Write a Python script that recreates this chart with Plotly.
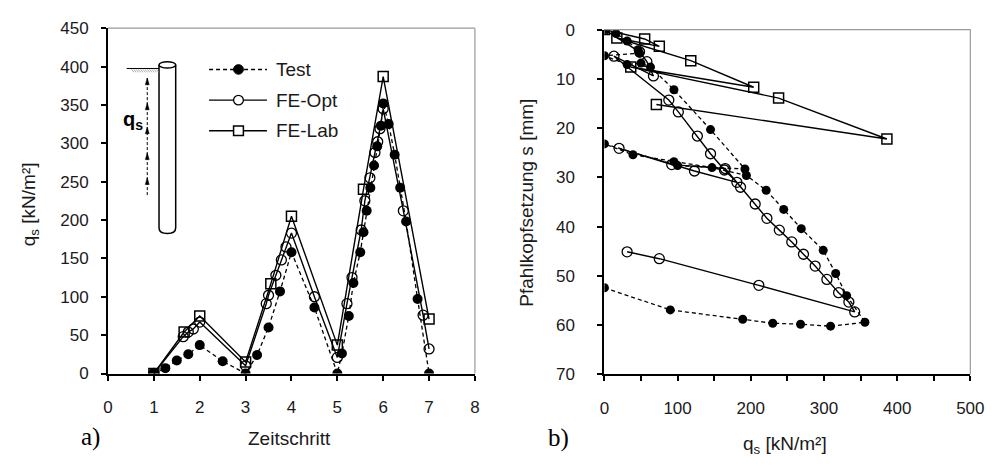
import plotly.graph_objects as go

# ---- a) skin friction q_s over the load steps ----
t_test = [1, 1.25, 1.5, 1.75, 2, 2.5, 3, 3.25, 3.5, 3.75, 4, 4.5, 5, 5.1, 5.25, 5.35, 5.5,
          5.57, 5.64, 5.72, 5.8, 5.87, 5.95, 6, 6.12, 6.25, 6.37, 6.5, 6.75, 7]
q_test = [0, 7, 17, 25, 37, 16, 0, 24, 60, 107, 158, 86, 0, 26, 75, 118, 158,
          184, 212, 242, 271, 296, 323, 352, 325, 285, 242, 198, 97, 0]

t_opt = [1, 1.64, 1.75, 1.86, 2, 3, 3.45, 3.5, 3.66, 3.78, 3.88, 4, 4.5, 5, 5.21, 5.32,
         5.52, 5.6, 5.71, 5.82, 5.88, 5.93, 6, 6.44, 6.87, 7]
q_opt = [0, 48, 54, 58, 67, 10, 91, 102, 128, 148, 165, 183, 100, 21, 91, 125,
         187, 225, 255, 288, 302, 319, 345, 212, 76, 32]

t_lab = [1, 1.66, 2, 3, 3.55, 4, 5, 5.57, 6, 7]
q_lab = [0, 54, 75, 15, 117, 205, 37, 240, 387, 71]

# ---- b) pile head settlement s over q_s ----
qb_test = [0, 16, 31, 46, 48, 0, 31, 50, 63, 95, 145, 192, 100, 0, 39, 95, 147, 194, 221,
           245, 269, 299, 316, 331, 356, 309, 268, 230, 189, 90, 0]
sb_test = [0, 0.8, 2.3, 4.1, 4.8, 5.3, 7.1, 6.8, 7.6, 12.2, 20.3, 28.3, 27.6, 23.2, 25.4,
           26.8, 28.0, 29.6, 32.6, 36.5, 40.4, 44.8, 49.5, 54.0, 59.4, 60.2, 59.8, 59.6,
           58.8, 56.9, 52.4]

qb_opt = [0, 48, 58, 67, 13, 88, 101, 127, 145, 164, 181, 123, 20, 92, 165, 186, 206, 222,
          239, 256, 272, 288, 304, 320, 334, 342, 211, 75, 31]
sb_opt = [0, 4.5, 6.5, 9.4, 5.4, 14.3, 16.7, 21.6, 25.2, 28.5, 31.0, 28.7, 24.1, 27.4, 28.2,
          32.0, 35.4, 38.3, 40.7, 43.1, 45.6, 48.0, 50.7, 53.4, 55.3, 57.3, 51.9, 46.5, 45.1]

qb_lab = [0, 55, 75, 17, 118, 204, 36, 238, 386, 71]
sb_lab = [0, 1.9, 3.4, 1.7, 6.3, 11.7, 7.6, 13.9, 22.2, 15.2]

left_xticks = list(range(0, 9))
left_yticks = list(range(0, 451, 50))
right_xticks = list(range(0, 501, 100))
right_yticks = list(range(0, 71, 10))

W, H = 1002, 466
FONT = "Liberation Sans, Arial, sans-serif"
SERIF = "Liberation Serif, Times New Roman, serif"
INK = "#1a1a1a"


def fx(p):
    return p / W


def fy(p):
    return 1 - p / H


series_style = dict(
    test=dict(line=dict(color="black", width=1.3, dash="4px,3px"),
              marker=dict(symbol="circle", size=10, color="black")),
    opt=dict(line=dict(color="black", width=1.4),
             marker=dict(symbol="circle-open", size=10, color="black", line=dict(width=1.3))),
    lab=dict(line=dict(color="black", width=1.4),
             marker=dict(symbol="square-open", size=10, color="black", line=dict(width=1.5))),
)

fig = go.Figure()
for name, key, xs, ys in [("Test", "test", t_test, q_test),
                          ("FE-Opt", "opt", t_opt, q_opt),
                          ("FE-Lab", "lab", t_lab, q_lab)]:
    fig.add_trace(go.Scatter(x=xs, y=ys, mode="lines+markers", name=name,
                             xaxis="x", yaxis="y", showlegend=False, **series_style[key]))

for name, key, xs, ys in [("Test", "test", qb_test, sb_test),
                          ("FE-Opt", "opt", qb_opt, sb_opt),
                          ("FE-Lab", "lab", qb_lab, sb_lab)]:
    st = dict(series_style[key])
    st["marker"] = dict(st["marker"], size=9 if key == "test" else 10)
    fig.add_trace(go.Scatter(x=xs, y=ys, mode="lines+markers", name=name,
                             xaxis="x2", yaxis="y2", showlegend=False, **st))

axis_common = dict(showgrid=False, zeroline=False, showline=True, linecolor="black",
                   linewidth=2, ticks="outside", ticklen=5, tickwidth=1.5,
                   tickcolor="black", tickfont=dict(family=FONT, size=17, color=INK))

fig.update_layout(
    width=W, height=H, margin=dict(l=0, r=0, t=0, b=0),
    paper_bgcolor="white", plot_bgcolor="white",
    xaxis=dict(domain=[fx(105), fx(479)], range=[0, 8], tickmode="array",
               tickvals=left_xticks, ticktext=[str(v) for v in left_xticks],
               ticklabelstandoff=12, **axis_common),
    yaxis=dict(domain=[fy(380), fy(20)], range=[0, 450], tickmode="array",
               tickvals=left_yticks, ticktext=[str(v) for v in left_yticks],
               ticklabelstandoff=9, **axis_common),
    xaxis2=dict(domain=[fx(611), fx(984)], range=[0, 500], anchor="y2", tickmode="array",
                tickvals=right_xticks, ticktext=[str(v) for v in right_xticks],
                ticklabelstandoff=12,
                minor=dict(dtick=50, ticks="outside", ticklen=5, tickwidth=1.5,
                           tickcolor="black", showgrid=False),
                **axis_common),
    yaxis2=dict(domain=[fy(381), fy(21.5)], range=[70, 0], anchor="x2", tickmode="array",
                tickvals=right_yticks, ticktext=[str(v) for v in right_yticks],
                ticklabelstandoff=19, **axis_common),
)

shapes = []
# light grey frame on top and right of both plots
for (x0, x1, y0, y1) in [(105, 479, 20, 380), (611, 984, 21.5, 381)]:
    shapes.append(dict(type="line", xref="paper", yref="paper", x0=fx(x0), x1=fx(x1),
                       y0=fy(y0), y1=fy(y0), line=dict(color="#999", width=1.2)))
    shapes.append(dict(type="line", xref="paper", yref="paper", x0=fx(x1), x1=fx(x1),
                       y0=fy(y0), y1=fy(y1), line=dict(color="#999", width=1.2)))

# pile sketch
pile = (f"M {fx(157)},{fy(58)} L {fx(157)},{fy(228)} Q {fx(157)},{fy(234)} {fx(165.5)},{fy(234)} "
        f"Q {fx(174)},{fy(234)} {fx(174)},{fy(228)} L {fx(174)},{fy(58)}")
shapes.append(dict(type="path", xref="paper", yref="paper", path=pile,
                   line=dict(color="black", width=1.5)))
shapes.append(dict(type="circle", xref="paper", yref="paper", x0=fx(157), x1=fx(174),
                   y0=fy(61.5), y1=fy(55), line=dict(color="black", width=1.5), fillcolor="white"))
# ground surface with hatching
shapes.append(dict(type="line", xref="paper", yref="paper", x0=fx(124), x1=fx(157),
                   y0=fy(62), y1=fy(62), line=dict(color="black", width=1)))
for k in range(12):
    x0 = 129 + k * 2.3
    shapes.append(dict(type="line", xref="paper", yref="paper", x0=fx(x0), x1=fx(x0 + 2.5),
                       y0=fy(63), y1=fy(66), line=dict(color="#999", width=0.8)))
# dashed arrow shaft and arrow heads (skin friction acting upwards)
shapes.append(dict(type="line", xref="paper", yref="paper", x0=fx(145), x1=fx(145),
                   y0=fy(194), y1=fy(72), line=dict(color="black", width=1, dash="3px,2px")))
for yh in [72, 98, 123, 150, 176]:
    shapes.append(dict(type="path", xref="paper", yref="paper",
                       path=f"M {fx(143)},{fy(yh + 7)} L {fx(145)},{fy(yh)} L {fx(147)},{fy(yh + 7)} Z",
                       fillcolor="black", line=dict(color="black", width=0.5)))

# legend samples
leg_rows = [("Test", 63, "test"), ("FE-Opt", 95, "opt"), ("FE-Lab", 127, "lab")]
for label_txt, yy, key in leg_rows:
    dash = "4px,3px" if key == "test" else "solid"
    shapes.append(dict(type="line", xref="paper", yref="paper", x0=fx(208), x1=fx(267),
                       y0=fy(yy), y1=fy(yy), line=dict(color="black", width=1.4, dash=dash)))
    if key == "test":
        shapes.append(dict(type="circle", xref="paper", yref="paper", x0=fx(233), x1=fx(243),
                           y0=fy(yy + 5), y1=fy(yy - 5), fillcolor="black",
                           line=dict(color="black", width=1)))
    elif key == "opt":
        shapes.append(dict(type="circle", xref="paper", yref="paper", x0=fx(233), x1=fx(243),
                           y0=fy(yy + 5), y1=fy(yy - 5), fillcolor="white",
                           line=dict(color="black", width=1.3)))
    else:
        shapes.append(dict(type="rect", xref="paper", yref="paper", x0=fx(233), x1=fx(243),
                           y0=fy(yy + 5), y1=fy(yy - 5), fillcolor="white",
                           line=dict(color="black", width=1.5)))

fig.update_layout(shapes=shapes)


def label(text, x, y, size, family=FONT, angle=0, anchor="center", color=INK):
    return dict(text=text, x=fx(x), y=fy(y), xref="paper", yref="paper", showarrow=False,
                xanchor=anchor, yanchor="middle", textangle=angle,
                font=dict(family=family, size=size, color=color))


ann = [label(name, 274, yy, 19, anchor="left") for name, yy, _ in leg_rows]
ann += [
    label("<b>q<sub>s</sub></b>", 130, 116, 20, color="black"),
    label("Zeitschritt", 290, 448, 19),
    label("q<sub>s</sub> [kN/m²]", 25, 204, 19, angle=-90),
    label("Pfahlkopfsetzung s [mm]", 532, 202, 19, angle=-90),
    label("q<sub>s</sub> [kN/m²]", 795, 455, 19),
    label("a)", 87, 446, 25, family=SERIF, color="black"),
    label("b)", 564, 447, 25, family=SERIF, color="black"),
]
fig.update_layout(annotations=ann)

fig.write_html("out.html")
